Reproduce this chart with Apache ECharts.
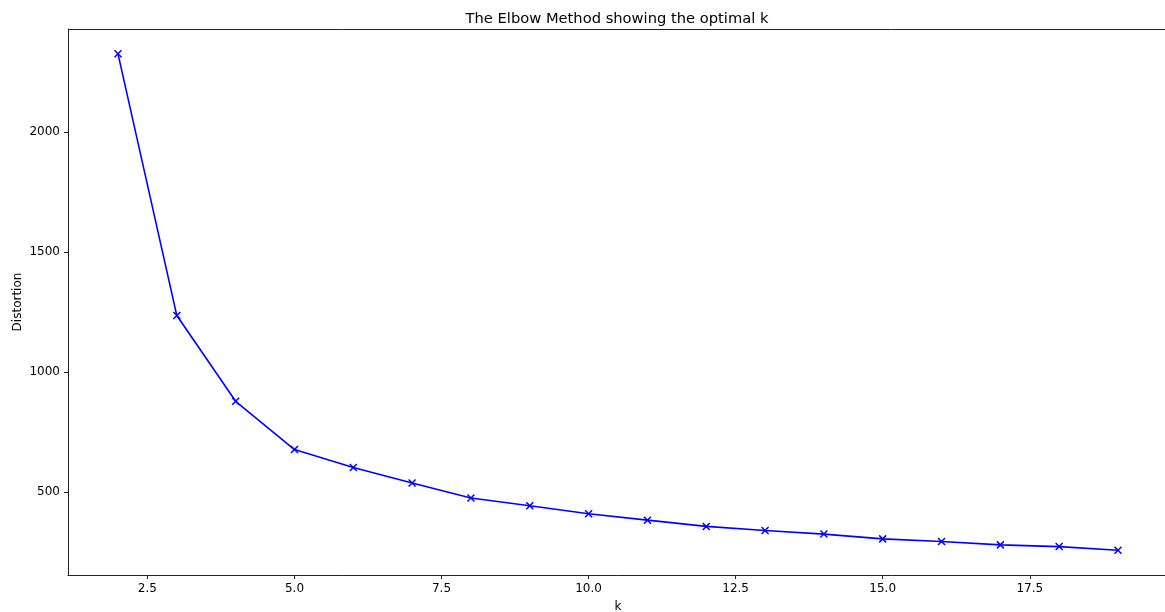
<!DOCTYPE html>
<html>
<head>
<meta charset="utf-8">
<script src="https://cdn.jsdelivr.net/npm/echarts@6/dist/echarts.min.js"></script>
<style>
  html, body { margin: 0; padding: 0; background: #fff; }
  #chart { width: 1165px; height: 612px; }
</style>
</head>
<body>
<div id="chart"></div>
<script>
// Number of clusters tried and the resulting distortion (within-cluster sum of squares)
const kValues = [2, 3, 4, 5, 6, 7, 8, 9, 10, 11, 12, 13, 14, 15, 16, 17, 18, 19];
const distortion = [2325, 1235, 878, 677, 602, 538, 475, 443, 410, 383, 357, 340, 325, 305, 294, 280, 273, 258];

const xTicks = [2.5, 5.0, 7.5, 10.0, 12.5, 15.0, 17.5];
const yTicks = [500, 1000, 1500, 2000];

// 5% padding on each side of the data range
const xPad = (kValues[kValues.length - 1] - kValues[0]) * 0.05;
const yMax = Math.max(...distortion), yMin = Math.min(...distortion);
const yPad = (yMax - yMin) * 0.05;

const font = 'DejaVu Sans';
const frame = '#222';

const chart = echarts.init(document.getElementById('chart'), null, { renderer: 'canvas' });
chart.setOption({
  animation: false,
  backgroundColor: '#fff',
  title: {
    text: 'The Elbow Method showing the optimal k',
    left: 612,
    top: 7,
    textAlign: 'center',
    textStyle: { fontFamily: font, fontSize: 14.7, fontWeight: 'normal', color: '#000' }
  },
  grid: { left: 68, top: 29, width: 1100, bottom: 37, containLabel: false, outerBoundsMode: 'none' },
  xAxis: {
    type: 'value',
    min: kValues[0] - xPad,
    max: kValues[kValues.length - 1] + xPad,
    name: 'k',
    nameLocation: 'middle',
    nameGap: 26,
    nameMoveOverlap: false,
    nameTextStyle: { fontFamily: font, fontSize: 12, color: '#000' },
    axisLine: { show: true, onZero: false, lineStyle: { color: frame, width: 1 } },
    axisTick: { show: true, inside: false, length: 4, lineStyle: { color: frame }, customValues: xTicks },
    axisLabel: {
      fontFamily: font, fontSize: 12, color: '#000', margin: 8,
      customValues: xTicks,
      formatter: v => v.toFixed(1)
    },
    splitLine: { show: false }
  },
  yAxis: {
    type: 'value',
    min: yMin - yPad,
    max: yMax + yPad,
    name: 'Distortion',
    nameLocation: 'middle',
    nameGap: 44,
    nameMoveOverlap: false,
    nameRotate: 90,
    nameTextStyle: { fontFamily: font, fontSize: 12, color: '#000' },
    axisLine: { show: true, onZero: false, lineStyle: { color: frame, width: 1 } },
    axisTick: { show: true, inside: false, length: 4, lineStyle: { color: frame }, customValues: yTicks },
    axisLabel: {
      fontFamily: font, fontSize: 12, color: '#000', margin: 8,
      customValues: yTicks,
      formatter: v => String(v)
    },
    splitLine: { show: false }
  },
  // top frame edge
  graphic: [{
    type: 'line',
    shape: { x1: 68, y1: 29.5, x2: 1168, y2: 29.5 },
    style: { stroke: frame, lineWidth: 1 },
    silent: true
  }],
  series: [{
    type: 'line',
    data: kValues.map((k, i) => [k, distortion[i]]),
    lineStyle: { color: '#0000ff', width: 1.6 },
    symbol: 'path://M0,0L10,10M10,0L0,10',
    symbolSize: 7,
    showAllSymbol: true,
    itemStyle: { color: 'rgba(0,0,0,0)', borderColor: '#0000ff', borderWidth: 1.5 },
    z: 3
  }]
});
</script>
</body>
</html>
